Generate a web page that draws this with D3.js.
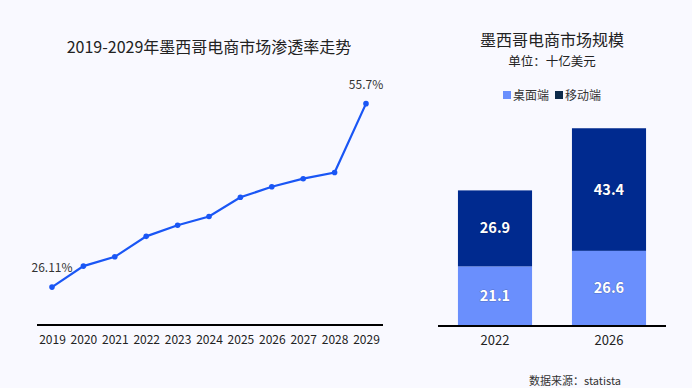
<!DOCTYPE html>
<html>
<head>
<meta charset="utf-8">
<script src="https://cdn.jsdelivr.net/npm/d3@7"></script>
<style>
  body { margin: 0; background: #f9f9ff; }
  svg { font-family: "Noto Sans CJK SC", "Noto Sans", sans-serif; }
</style>
</head>
<body>
<svg id="chart" width="692" height="388"></svg>
<script>
// line chart data
const years = ['2019','2020','2021','2022','2023','2024','2025','2026','2027','2028','2029'];
const penetration = [26.11, 29.5, 31.0, 34.3, 36.1, 37.5, 40.6, 42.3, 43.6, 44.6, 55.7];

// bar chart data
const barYears = ['2022', '2026'];
const desktop = [21.1, 26.6];
const mobile = [26.9, 43.4];
const seriesNames = ['桌面端', '移动端'];

const svg = d3.select('#chart');
svg.append('rect').attr('width', 692).attr('height', 388).attr('fill', '#f9f9ff');

//--- left: line chart
const x = d3.scalePoint().domain(years).range([52, 366]);
const y = d3.scaleLinear().domain([20, 60]).range([325, 77]);

svg.append('text')
    .attr('x', 209).attr('y', 53)
    .attr('text-anchor', 'middle')
    .style('font-size', '16px')
    .attr('fill', '#222')
    .text('2019-2029年墨西哥电商市场渗透率走势');

const xAxis = svg.append('g')
    .attr('transform', 'translate(0,325)')
    .call(d3.axisBottom(x).tickSize(0).tickPadding(10));
xAxis.select('.domain').attr('d', 'M37,0H383').attr('stroke', '#000').attr('stroke-width', 2);
xAxis.selectAll('text')
    .style('font-size', '12px')
    .style('font-family', '"Noto Sans CJK SC", sans-serif')
    .attr('fill', '#222');

const pts = years.map((d, i) => [d, penetration[i]]);
svg.append('path')
    .datum(pts)
    .attr('fill', 'none')
    .attr('stroke', '#1a56f5')
    .attr('stroke-width', 2.2)
    .attr('d', d3.line().x(d => x(d[0])).y(d => y(d[1])));

svg.selectAll('.dot')
    .data(pts)
    .enter()
    .append('circle')
    .attr('cx', d => x(d[0]))
    .attr('cy', d => y(d[1]))
    .attr('r', 2.8)
    .attr('fill', '#1a56f5');

// labels on first and last point
[0, pts.length - 1].forEach(i => {
    svg.append('text')
        .attr('x', x(pts[i][0]))
        .attr('y', y(pts[i][1]) - 15)
        .attr('text-anchor', 'middle')
        .style('font-size', '12px')
        .attr('fill', '#333')
        .text(i === 0 ? pts[i][1].toFixed(2) + '%' : pts[i][1] + '%');
});

//--- right: stacked bars
const bx = d3.scaleBand().domain(barYears).range([438, 666]).paddingInner(0.35).paddingOuter(0.175);
const by = d3.scaleLinear().domain([0, 80]).range([326, 100]);
const colors = ['#6a8ffd', '#002a8f'];
const legendColors = ['#6a8ffd', '#0e2b4a'];

svg.append('text')
    .attr('x', 552).attr('y', 46)
    .attr('text-anchor', 'middle')
    .style('font-size', '16px')
    .attr('fill', '#222')
    .text('墨西哥电商市场规模');
svg.append('text')
    .attr('x', 552).attr('y', 66)
    .attr('text-anchor', 'middle')
    .style('font-size', '12.5px')
    .attr('fill', '#222')
    .text('单位：十亿美元');

// legend
const lg = svg.append('g').attr('transform', 'translate(503,91)');
seriesNames.forEach((n, i) => {
    const g = lg.append('g').attr('transform', `translate(${i * 52},0)`);
    g.append('rect').attr('width', 8).attr('height', 8).attr('fill', legendColors[i]);
    g.append('text').attr('x', 10).attr('y', 8.5)
        .style('font-size', '12px').attr('fill', '#333').text(n);
});

const stacked = d3.stack().keys([0, 1])(barYears.map((d, i) => ({ year: d, 0: desktop[i], 1: mobile[i] })));

stacked.forEach((layer, li) => {
    svg.append('g').selectAll('rect')
        .data(layer)
        .enter()
        .append('rect')
        .attr('x', d => bx(d.data.year))
        .attr('y', d => by(d[1]))
        .attr('width', bx.bandwidth())
        .attr('height', d => by(d[0]) - by(d[1]))
        .attr('fill', colors[li]);

    svg.append('g').selectAll('text')
        .data(layer)
        .enter()
        .append('text')
        .attr('x', d => bx(d.data.year) + bx.bandwidth() / 2)
        .attr('y', d => (by(d[0]) + by(d[1])) / 2 + 5)
        .attr('text-anchor', 'middle')
        .style('font-size', '14.5px')
        .style('font-weight', 'bold')
        .style('paint-order', 'stroke')
        .attr('stroke', 'rgba(0,0,0,0.25)')
        .attr('stroke-width', 1)
        .attr('fill', '#fff')
        .text(d => (d[1] - d[0]).toFixed(1));
});

const bAxis = svg.append('g')
    .attr('transform', 'translate(0,326)')
    .call(d3.axisBottom(bx).tickSize(0).tickPadding(10));
bAxis.select('.domain').attr('d', 'M438,0H666').attr('stroke', '#000').attr('stroke-width', 2);
bAxis.selectAll('text')
    .style('font-size', '13px')
    .style('font-family', '"Noto Sans CJK SC", sans-serif')
    .attr('fill', '#222');

svg.append('text')
    .attr('x', 575).attr('y', 385)
    .attr('text-anchor', 'middle')
    .style('font-size', '11px')
    .attr('fill', '#333')
    .text('数据来源：statista');
</script>
</body>
</html>
